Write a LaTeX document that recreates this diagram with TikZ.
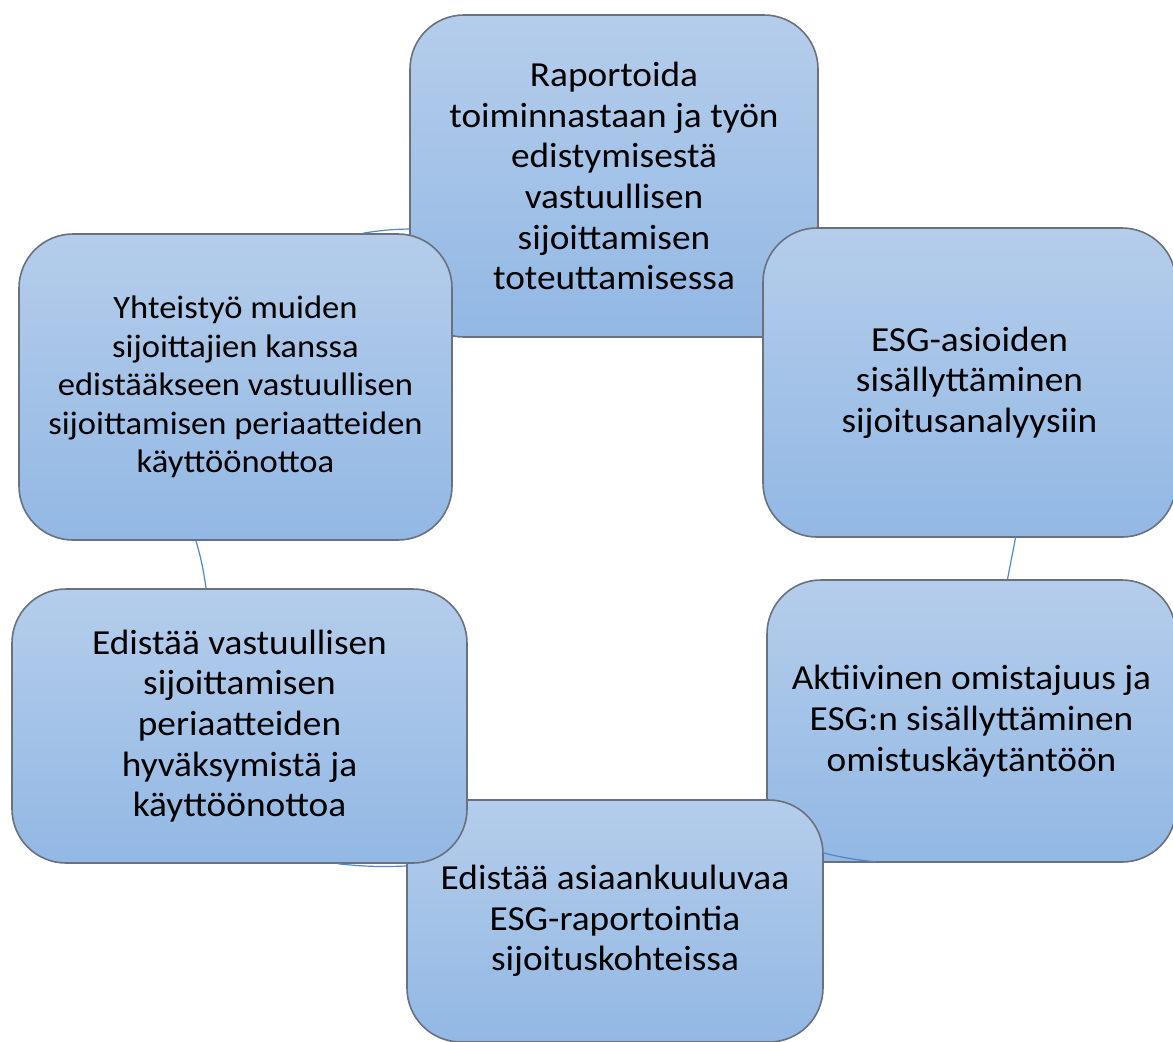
\documentclass[tikz,border=0pt]{standalone}
\usepackage{fontspec}
\setmainfont{Carlito}[FakeStretch=1.06]
\begin{document}
\begin{tikzpicture}[x=0.5pt,y=-0.5pt,
  cyclebox/.style={draw=boxline, line width=0.8pt, rounded corners=27pt,
    top color=boxtop, bottom color=boxbottom, align=center, inner sep=0pt,
    font=\fontsize{17.6pt}{20.3pt}\selectfont, text=black},
  smalltext/.style={font=\fontsize{16.3pt}{19.2pt}\selectfont},
  conn/.style={draw=connblue, line width=0.6pt}]
\definecolor{boxtop}{RGB}{181,205,235}
\definecolor{boxbottom}{RGB}{146,184,228}
\definecolor{boxline}{RGB}{105,113,126}
\definecolor{connblue}{RGB}{79,135,205}
\useasboundingbox (0,0) rectangle (1173,1041);

% centres of the cycle boxes
\path (614,176) coordinate (ctop)
      (969.5,382.5) coordinate (cru)
      (971.5,721) coordinate (crl)
      (615,921) coordinate (cbot)
      (239.5,726) coordinate (cll)
      (235.5,387) coordinate (clu);

% boxes, drawn clockwise so each one overlaps its predecessor
\node[cyclebox, minimum width=204pt, minimum height=161pt] (top) at (ctop)
  {Raportoida\\toiminnastaan ja työn\\edistymisestä\\vastuullisen\\sijoittamisen\\toteuttamisessa};
\node[cyclebox, minimum width=206.5pt, minimum height=154.5pt] (ru) at (cru)
  {ESG-asioiden\\sisällyttäminen\\sijoitusanalyysiin};
\node[cyclebox, minimum width=204.5pt, minimum height=141pt] (rl) at (crl)
  {Aktiivinen omistajuus ja\\ESG:n sisällyttäminen\\omistuskäytäntöön};
\node[cyclebox, minimum width=208pt, minimum height=121pt] (bot) at (cbot)
  {Edistää asiaankuuluvaa\\ESG-raportointia\\sijoituskohteissa};
\node[cyclebox, minimum width=227.5pt, minimum height=137pt] (ll) at (cll)
  {Edistää vastuullisen\\sijoittamisen\\periaatteiden\\hyväksymistä ja\\käyttöönottoa};
\node[cyclebox, smalltext, minimum width=216.5pt, minimum height=153pt] (lu) at (clu)
  {Yhteistyö muiden\\sijoittajien kanssa\\edistääkseen vastuullisen\\sijoittamisen periaatteiden\\käyttöönottoa};

% connecting arcs of the cycle, visible in the gaps between boxes
\draw[conn] ([shift={(46,0)}]ru.south) -- ([shift={(36,0)}]rl.north);
\draw[conn] ([shift={(-96,-1)}]rl.south) to[bend left=4] ([shift={(0,-68)}]bot.east);
\draw[conn] ([shift={(0,-55)}]bot.west) to[bend left=4] ([shift={(98.5,0)}]ll.south);
\draw[conn] ([shift={(-33.5,0)}]ll.north) to[bend right=4] ([shift={(-39.5,0)}]lu.south);
\draw[conn] ([shift={(127.5,0)}]lu.north) to[bend left=4] ([shift={(0,53)}]top.west);
\end{tikzpicture}
\end{document}
